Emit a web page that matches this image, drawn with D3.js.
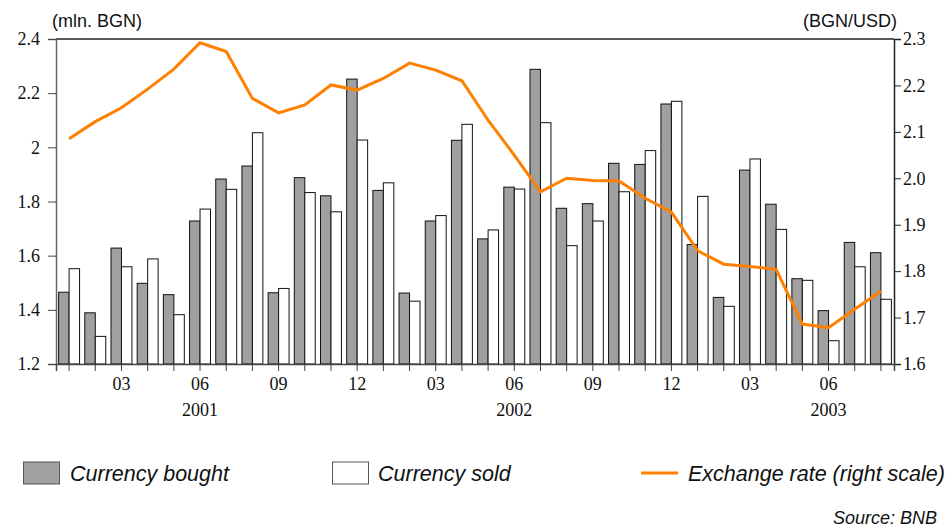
<!DOCTYPE html>
<html>
<head>
<meta charset="utf-8">
<script src="https://cdn.jsdelivr.net/npm/d3@7"></script>
<style>
  body { margin: 0; background: #fff; }
  .tick text { font-family: "Liberation Serif", serif; font-size: 18px; fill: #111; }
  .lbl { font-family: "Liberation Sans", Arial, sans-serif; font-size: 18px; fill: #111; }
  .leg { font-family: "Liberation Sans", Arial, sans-serif; font-size: 21.5px; font-style: italic; fill: #111; }
</style>
</head>
<body>
<svg id="chart" width="945" height="529"></svg>
<script>
// DATA
const months = ["01","02","03","04","05","06","07","08","09","10","11","12",
                "01","02","03","04","05","06","07","08","09","10","11","12",
                "01","02","03","04","05","06","07","08"];
const years = ["2001", "2002", "2003"];
const bought = [1.465, 1.389, 1.628, 1.498, 1.456, 1.728, 1.883, 1.931, 1.463, 1.888, 1.821, 2.252,
                1.841, 1.462, 1.728, 2.026, 1.662, 1.853, 2.288, 1.775, 1.792, 1.941, 1.937, 2.160,
                1.641, 1.446, 1.916, 1.790, 1.515, 1.397, 1.649, 1.611];
const sold   = [1.552, 1.302, 1.559, 1.588, 1.382, 1.772, 1.845, 2.054, 1.479, 1.833, 1.762, 2.027,
                1.869, 1.432, 1.748, 2.085, 1.695, 1.846, 2.091, 1.637, 1.728, 1.836, 1.988, 2.170,
                1.819, 1.413, 1.957, 1.697, 1.509, 1.286, 1.559, 1.439];
const rate   = [2.085, 2.122, 2.152, 2.192, 2.235, 2.292, 2.273, 2.172, 2.141, 2.158, 2.201, 2.190,
                2.215, 2.248, 2.233, 2.210, 2.125, 2.050, 1.971, 2.000, 1.995, 1.994, 1.957, 1.927,
                1.844, 1.815, 1.810, 1.804, 1.686, 1.678, 1.718, 1.757];
const leftTicks = [1.2, 1.4, 1.6, 1.8, 2, 2.2, 2.4];
const rightTicks = [1.6, 1.7, 1.8, 1.9, 2.0, 2.1, 2.2, 2.3];

const data = months.map((m, i) => ({ i, m, bought: bought[i], sold: sold[i], rate: rate[i] }));

// SETUP
const plot = { left: 56, right: 894, top: 39, bottom: 364 };
const svg = d3.select("#chart");

// SCALES
const x = d3.scaleBand().domain(d3.range(months.length)).range([plot.left, plot.right]).padding(0);
const xSub = d3.scaleBand().domain(["bought", "sold"]).range([0, x.bandwidth()])
    .paddingInner(0).paddingOuter(0.25);
const yL = d3.scaleLinear().domain([1.2, 2.4]).range([plot.bottom, plot.top]);
const yR = d3.scaleLinear().domain([1.6, 2.3]).range([plot.bottom, plot.top]);

// BARS
const g = svg.append("g");
g.selectAll(".b").data(data).enter().append("rect")
    .attr("x", d => x(d.i) + xSub("bought"))
    .attr("y", d => yL(d.bought))
    .attr("width", xSub.bandwidth())
    .attr("height", d => yL(1.2) - yL(d.bought))
    .attr("fill", "#a0a0a0").attr("stroke", "#111").attr("stroke-width", 1);
g.selectAll(".s").data(data).enter().append("rect")
    .attr("x", d => x(d.i) + xSub("sold"))
    .attr("y", d => yL(d.sold))
    .attr("width", xSub.bandwidth())
    .attr("height", d => yL(1.2) - yL(d.sold))
    .attr("fill", "#fff").attr("stroke", "#111").attr("stroke-width", 1);

// LINE
const line = d3.line()
    .x(d => x(d.i) + x.bandwidth() / 2)
    .y(d => yR(d.rate));
svg.append("path").datum(data)
    .attr("d", line)
    .attr("fill", "none")
    .attr("stroke", "#ff8000")
    .attr("stroke-width", 3)
    .attr("stroke-linejoin", "miter");

// AXES
svg.append("line").attr("x1", plot.left).attr("x2", plot.right).attr("y1", plot.top).attr("y2", plot.top)
    .attr("stroke", "#222").attr("stroke-width", 1.5);

const axL = svg.append("g").attr("transform", `translate(${plot.left},0)`)
    .call(d3.axisLeft(yL).tickValues(leftTicks).tickSize(8).tickPadding(8)
        .tickFormat(d => String(+d.toFixed(1))));
axL.select(".domain").attr("stroke", "#666").attr("stroke-width", 1.5);
axL.selectAll(".tick line").attr("stroke", "#444");

const axR = svg.append("g").attr("transform", `translate(${plot.right},0)`)
    .call(d3.axisRight(yR).tickValues(rightTicks).tickSize(7).tickPadding(2)
        .tickFormat(d3.format(".1f")));
axR.select(".domain").attr("stroke", "#222").attr("stroke-width", 1.5);
axR.selectAll(".tick line").attr("stroke", "#222");

const axB = svg.append("g").attr("transform", `translate(0,${plot.bottom})`)
    .call(d3.axisBottom(x).tickSize(7).tickPadding(6)
        .tickFormat(i => (+months[i]) % 3 === 0 ? months[i] : ""));
axB.select(".domain").attr("stroke", "#444").attr("stroke-width", 1.5);
axB.selectAll(".tick line").attr("stroke", "#444");

// year labels under June of each year
years.forEach((yr, k) => {
    const idx = k * 12 + 5;
    svg.append("text")
        .attr("x", x(idx) + x.bandwidth() / 2)
        .attr("y", 416)
        .attr("text-anchor", "middle")
        .style("font-family", "Liberation Serif, serif")
        .style("font-size", "18px")
        .attr("fill", "#111")
        .text(yr);
});

// UNIT LABELS
svg.append("text").attr("class", "lbl").attr("x", 52).attr("y", 27).text("(mln. BGN)");
svg.append("text").attr("class", "lbl").attr("x", 897).attr("y", 27)
    .attr("text-anchor", "end").text("(BGN/USD)");

// LEGEND
const ly = 473;
svg.append("rect").attr("x", 23.5).attr("y", ly - 11).attr("width", 36).attr("height", 22)
    .attr("fill", "#a0a0a0").attr("stroke", "#555");
svg.append("text").attr("class", "leg").attr("x", 70).attr("y", ly + 8).text("Currency bought");
svg.append("rect").attr("x", 332.5).attr("y", ly - 11).attr("width", 36).attr("height", 22)
    .attr("fill", "#fff").attr("stroke", "#555");
svg.append("text").attr("class", "leg").attr("x", 378).attr("y", ly + 8).text("Currency sold");
svg.append("line").attr("x1", 641).attr("x2", 678).attr("y1", ly).attr("y2", ly)
    .attr("stroke", "#ff8000").attr("stroke-width", 3);
svg.append("text").attr("class", "leg").attr("x", 688).attr("y", ly + 8).text("Exchange rate (right scale)");

svg.append("text").attr("class", "leg").style("font-size", "18px")
    .attr("x", 937).attr("y", 524).attr("text-anchor", "end").text("Source: BNB");
</script>
</body>
</html>
